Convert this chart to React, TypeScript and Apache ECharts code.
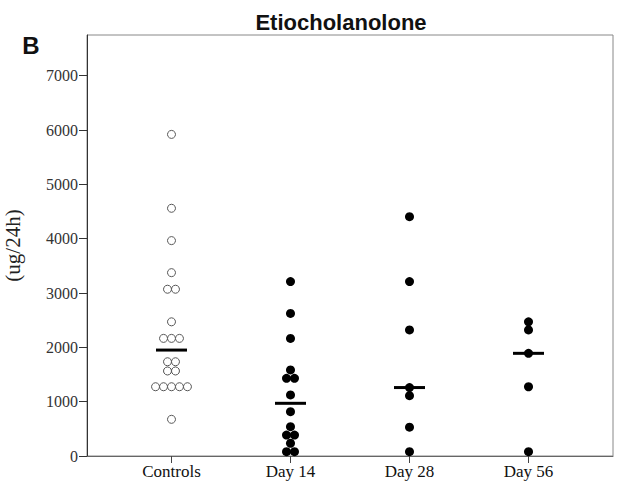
import React, { useEffect, useRef } from "react";
import * as echarts from "echarts";

const categories = ["Controls", "Day 14", "Day 28", "Day 56"];
const controls = [5920, 4560, 3965, 3375, 3070, 3070, 2470, 2165, 2165, 2165, 1735, 1735, 1565, 1565, 1275, 1275, 1275, 1275, 1275, 675];
const day14 = [3210, 2625, 2165, 1585, 1430, 1430, 1125, 815, 540, 385, 385, 235, 80, 80];
const day28 = [4405, 3210, 2320, 1260, 1110, 530, 80];
const day56 = [2470, 2320, 1890, 1275, 80];
const yTicks = [0, 1000, 2000, 3000, 4000, 5000, 6000, 7000];
const titleText = "Etiocholanolone";
const panelLabel = "B";
const yName = "(ug/24h)";

const groups = [controls, day14, day28, day56];

function median(arr: number[]) {
  const s = [...arr].sort((a, b) => a - b);
  const n = s.length;
  return n % 2 ? s[(n - 1) / 2] : (s[n / 2 - 1] + s[n / 2]) / 2;
}

function swarm(values: number[], center: number, step: number) {
  const counts: Record<string, number> = {};
  values.forEach((v) => (counts[v] = (counts[v] || 0) + 1));
  const seen: Record<string, number> = {};
  return values.map((v) => {
    const n = counts[v];
    const i = seen[v] || 0;
    seen[v] = i + 1;
    return [center + (i - (n - 1) / 2) * step, v];
  });
}

export default function App() {
  const ref = useRef<HTMLDivElement>(null);
  useEffect(() => {
    if (!ref.current) return;
    const chart = echarts.init(ref.current, null, { renderer: "svg" });
    const step = 0.067;
    const filled: number[][] = [];
    groups.slice(1).forEach((g, k) => filled.push(...swarm(g, k + 2, step)));
    const medians = groups.map((g, i) => [i + 1, median(g)]);
    chart.setOption({
      animation: false,
      grid: {
        left: 87,
        right: 6,
        top: 35,
        bottom: 35,
        containLabel: false,
        outerBoundsMode: "none",
        show: true,
        borderColor: "#888",
        borderWidth: 1,
        backgroundColor: "transparent",
      },
      graphic: [
        {
          type: "text",
          x: 341,
          y: 22,
          style: {
            text: titleText,
            font: "bold 22px 'Liberation Sans', Arial, sans-serif",
            fill: "#111",
            textAlign: "center",
            textVerticalAlign: "middle",
          },
        },
        {
          type: "text",
          x: 31,
          y: 45,
          style: {
            text: panelLabel,
            font: "bold 24px 'Liberation Sans', Arial, sans-serif",
            fill: "#111",
            textAlign: "center",
            textVerticalAlign: "middle",
          },
        },
      ],
      xAxis: {
        type: "value",
        min: 0.29,
        max: 4.71,
        splitLine: { show: false },
        axisLine: { lineStyle: { color: "#666", width: 1 } },
        axisTick: {
          customValues: [1, 2, 3, 4],
          length: 7,
          lineStyle: { color: "#444" },
        },
        axisLabel: {
          customValues: [1, 2, 3, 4],
          formatter: (v: number) => categories[Math.round(v) - 1] ?? "",
          fontFamily: "'Liberation Serif', 'Times New Roman', serif",
          fontSize: 17,
          color: "#111",
          margin: 7,
        },
      },
      yAxis: {
        type: "value",
        min: 0,
        max: 7750,
        splitLine: { show: false },
        name: yName,
        nameLocation: "middle",
        nameGap: 64,
        nameTextStyle: {
          fontFamily: "'Liberation Serif', 'Times New Roman', serif",
          fontSize: 21,
          color: "#222",
        },
        axisLine: { show: true, lineStyle: { color: "#333", width: 1 } },
        axisTick: { customValues: yTicks, length: 8, lineStyle: { color: "#333" } },
        axisLabel: {
          customValues: yTicks,
          formatter: (v: number) => String(v),
          fontFamily: "'Liberation Serif', 'Times New Roman', serif",
          fontSize: 16,
          color: "#333",
          margin: 9,
        },
      },
      series: [
        {
          type: "scatter",
          data: swarm(controls, 1, step),
          symbol: "circle",
          symbolSize: 8,
          itemStyle: { color: "#fff", borderColor: "#555", borderWidth: 1, opacity: 1 },
        },
        {
          type: "scatter",
          data: filled,
          symbol: "circle",
          symbolSize: 9,
          itemStyle: { color: "#000", opacity: 1 },
        },
        {
          type: "scatter",
          data: medians,
          symbol: "rect",
          symbolSize: [31, 3],
          itemStyle: { color: "#000", opacity: 1 },
          z: 5,
        },
      ],
    });
    return () => chart.dispose();
  }, []);
  return <div ref={ref} style={{ width: 619, height: 491, position: "absolute", left: 0, top: 0 }} />;
}
